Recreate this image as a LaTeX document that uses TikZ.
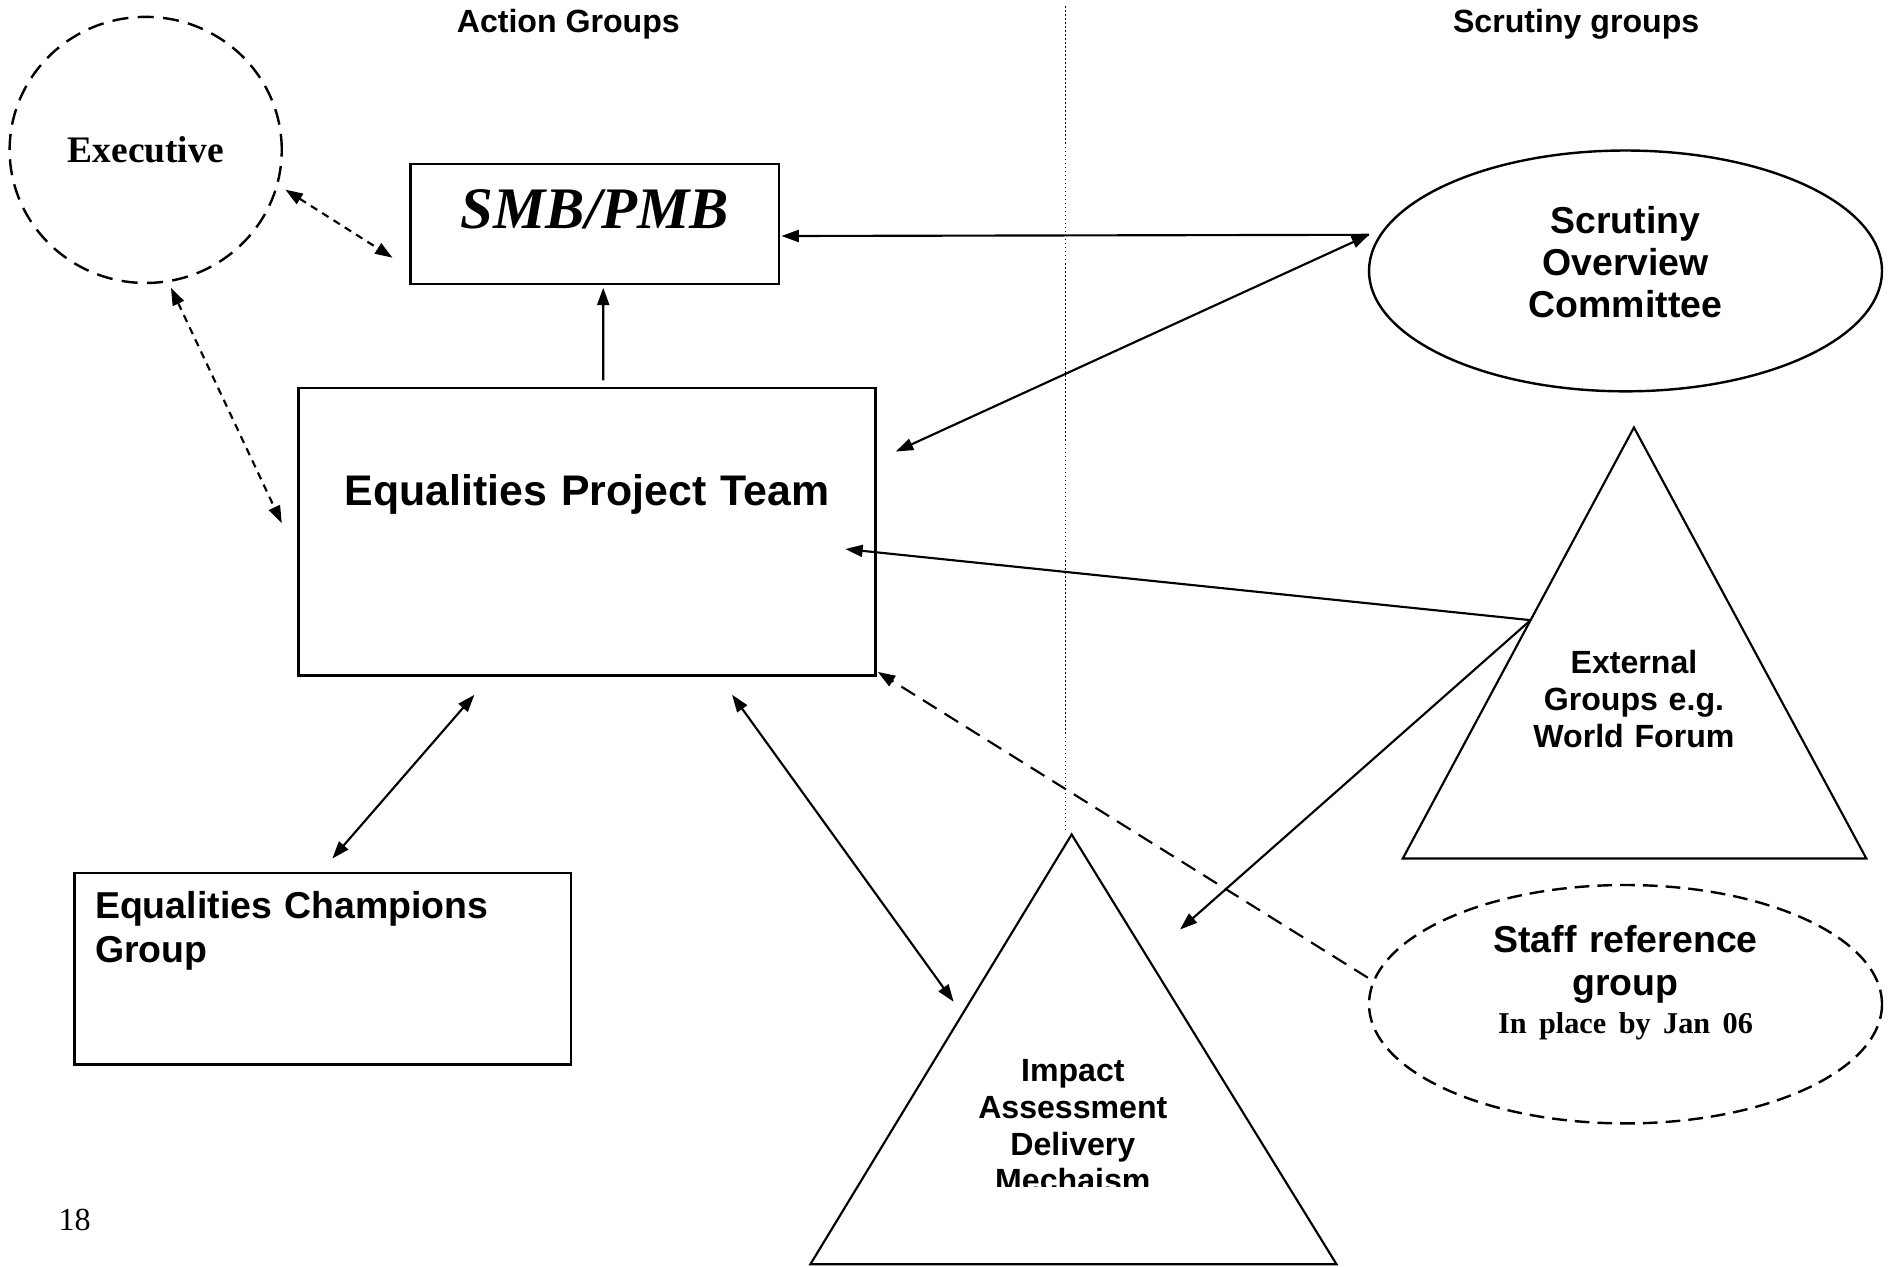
\documentclass[tikz,border=0pt]{standalone}
\usepackage{fontspec}
\setmainfont{Liberation Serif}
\setsansfont{Liberation Sans}
\usetikzlibrary{arrows.meta, shapes.geometric, calc}

\begin{document}
\begin{tikzpicture}[x=0.45pt, y=-0.45pt]

\tikzset{box/.style = {draw, line width=0.9pt, rectangle, inner sep=0pt, anchor=north west}}
\tikzset{group/.style = {draw, line width=0.9pt, ellipse, inner sep=0pt, align=center}}
\tikzset{tri/.style = {font=\sffamily\bfseries\fontsize{12}{13.7}\selectfont, text width=90pt, align=center, anchor=base, inner sep=0pt}}
\tikzset{head/.style = {font=\sffamily\bfseries\fontsize{12}{13.8}\selectfont}}
\tikzset{link/.style = {<->, line width=0.8pt, > = {Triangle[length=6.5pt, width=4.5pt]}}}
\tikzset{hint/.style = {dash pattern=on 2.8pt off 2.2pt}}
\tikzset{loose/.style = {dash pattern=on 6pt off 3.5pt}}

\useasboundingbox (0,0) rectangle (1568,1052);

%headings
\node[head] (action) at (472,20) {Action Groups};
\node[head] (scrhead) at (1309,20) {Scrutiny groups};
\node[font=\fontsize{12}{14}\selectfont] (page) at (62,1013) {18};

%divider
\coordinate (divtop) at (885,5);
\coordinate (divbot) at (885,690);
\draw[line width=0.6pt, dash pattern=on 0.6pt off 0.9pt] (divtop) -- (divbot);

%action side
\node[group, dash pattern=on 6pt off 3.5pt, minimum width=101.7pt, minimum height=99.45pt,
      font=\bfseries\fontsize{14}{16}\selectfont] (exec) at (121,124.5) {Executive};
\node[box, text width=137.7pt, align=center, text height=24.3pt, text depth=20.7pt,
      font=\bfseries\itshape\fontsize{22}{25}\selectfont] (smb) at (340,135) {SMB/PMB};
\node[box, text width=215.55pt, align=center, text height=44.1pt, text depth=63.45pt,
      font=\sffamily\bfseries\fontsize{16}{18.4}\selectfont] (ept) at (247,321) {Equalities Project Team};
\node[box, text width=170.1pt, inner xsep=7.65pt, align=left, text height=17.1pt, text depth=54.45pt,
      font=\sffamily\bfseries\fontsize{14}{16.2}\selectfont] (champ) at (61,724) {Equalities Champions\\Group};

%scrutiny side
\node[group, minimum width=191.7pt, minimum height=90pt, text width=90pt, text height=9pt, text depth=36.9pt,
      font=\sffamily\bfseries\fontsize{14}{15.75}\selectfont] (scrut) at (1350,225) {Scrutiny\\Overview\\Committee};
\node[group, dash pattern=on 5.5pt off 3pt, minimum width=191.7pt, minimum height=89.1pt, text width=120pt,
      text height=9pt, text depth=47.7pt, font=\sffamily\bfseries\fontsize{14}{16.2}\selectfont] (staff) at (1350,834)
      {Staff reference\\group\\[-2.2pt]\mbox{\rmfamily\fontsize{11.3}{13}\selectfont In place by Jan 06}};

\coordinate (ext-top) at (1357,355);
\coordinate (ext-l) at (1165,713);
\coordinate (ext-r) at (1550,713);
\draw[line width=0.8pt] (ext-top) -- (ext-r) -- (ext-l) -- cycle;
\node[tri] (ext) at (1357,559.5) {External\\Groups e.g.\\World Forum};

\coordinate (imp-top) at (890,693);
\coordinate (imp-l) at (673,1050);
\coordinate (imp-r) at (1110,1050);
\draw[line width=0.8pt] (imp-top) -- (imp-r) -- (imp-l) -- cycle;
\begin{scope}
  \clip (780,860) rectangle (1000,985);
  \node[tri] (imp) at (891,898.5) {Impact\\Assessment\\Delivery\\Mechaism};
\end{scope}

%links
\draw[link, hint] ([shift={(2,33)}]exec.east) -- ([shift={(-14,28)}]smb.west);
\draw[link, hint] ([shift={(21,3)}]exec.south) -- ([shift={(-13,-7)}]ept.west);
\draw[link, ->] ([shift={(13.5,-5)}]ept.north) -- ([shift={(7,2)}]smb.south);
\draw[link, <-] ([shift={(1,10)}]smb.east) -- ([shift={(1,-30)}]scrut.west);
\draw[link] ([shift={(16,54)}]ept.north east) -- ([shift={(1,-30)}]scrut.west);
\coordinate (ext-side) at ($(ext-top)!0.447!(ext-l)$);
\draw[link, ->] (ext-side) -- ([shift={(-26,14.5)}]ept.east);
\draw[link, ->] (ext-side) -- ([shift={(90,79)}]imp-top);
\draw[link] ([shift={(-93.5,15)}]ept.south) -- ([shift={(8,-11)}]champ.north);
\draw[link] ([shift={(120.5,15)}]ept.south) -- ([shift={(-98,139)}]imp-top);
\draw[link, ->, loose] ([shift={(0,-22)}]staff.west) -- ([shift={(1,-4)}]ept.south east);

\end{tikzpicture}
\end{document}
